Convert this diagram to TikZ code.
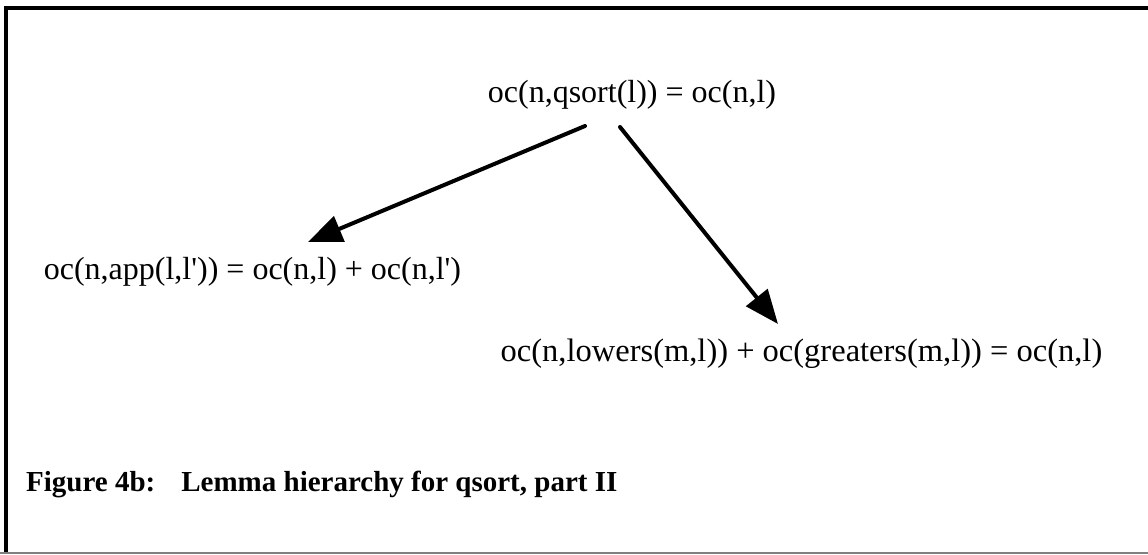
\documentclass[tikz,border=0pt]{standalone}
\usepackage{fontspec}
\setmainfont{Liberation Serif}
\usetikzlibrary{arrows.meta,calc}
\begin{document}
\begin{tikzpicture}[x=1pt,y=-1pt,
  lemma/.style={inner sep=0pt, anchor=base, font=\fontsize{32}{36}\selectfont},
  captext/.style={inner sep=0pt, anchor=base west, font=\bfseries\fontsize{29}{34}\selectfont},
  arr/.style={line width=4pt, line cap=round, -{Triangle[length=34pt,width=27pt]}},
  frameline/.style={line width=4pt}]
\useasboundingbox (0,0) rectangle (1148,554);
\draw[frameline] (5.5,8) -- (1148,8);
\draw[frameline] (5.5,6) -- (5.5,554);
\draw[gray, line width=1.5pt] (0,553) -- (1148,553);
\node[lemma] (top) at (632,102) {oc(n,qsort(l)) = oc(n,l)};
\node[lemma] (app) at (252.5,279) {oc(n,app(l,l\textquotesingle)) = oc(n,l) + oc(n,l\textquotesingle)};
\node[lemma, font=\fontsize{32.5}{36}\selectfont] (low) at (801.5,361) {oc(n,lowers(m,l)) + oc(greaters(m,l)) = oc(n,l)};
\node[captext] (cap) at (26,491) {Figure 4b:\hspace{26pt}Lemma hierarchy for qsort, part II};
\draw[arr] ($(top.base)+(-47,24)$) -- ($(app.base)+(55.5,-37)$);
\draw[arr] ($(top.base)+(-12,25)$) -- ($(low.base)+(-23.5,-37)$);
\end{tikzpicture}
\end{document}
